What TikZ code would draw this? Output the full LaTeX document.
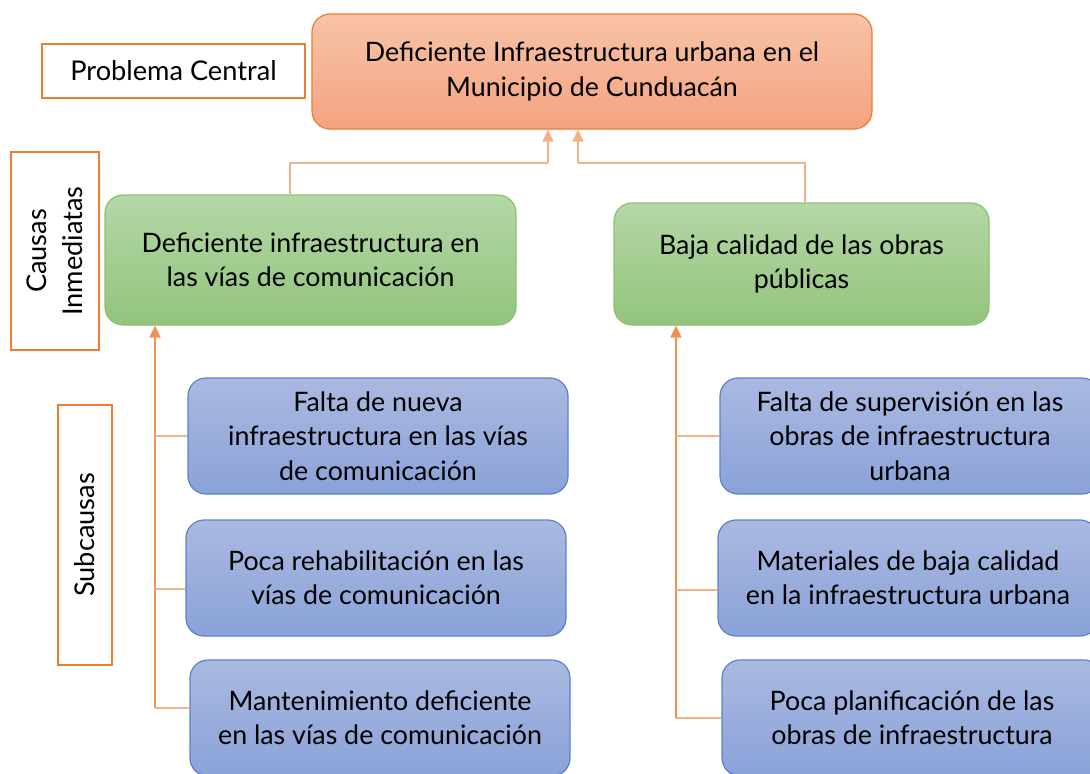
\documentclass[tikz,border=0pt]{standalone}
\usepackage{fontspec}
\setmainfont{Lato}
\usetikzlibrary{arrows.meta}
\definecolor{naranja}{HTML}{ED7D31}
\definecolor{naranjaclaro}{HTML}{F4B183}
\definecolor{salmonarr}{HTML}{F8C3A7}
\definecolor{salmonab}{HTML}{F4A380}
\definecolor{verdearr}{HTML}{B4D7A6}
\definecolor{verdeab}{HTML}{93C47D}
\definecolor{verdeborde}{HTML}{8DC16E}
\definecolor{azularr}{HTML}{AAB9E1}
\definecolor{azulab}{HTML}{8AA2D8}
\definecolor{azulborde}{HTML}{5A82CC}
\tikzset{
  letrero/.style={draw=naranja, line width=1.2pt, fill=white, inner sep=0pt,
    font=\fontsize{13.6}{18}\selectfont, align=center},
  caja/.style={rounded corners=9pt, line width=0.6pt, align=center, inner sep=0pt,
    minimum width=190pt, minimum height=58pt, font=\fontsize{13.4}{17.2}\selectfont},
  problema/.style={caja, draw=naranja, top color=salmonarr, bottom color=salmonab,
    minimum width=280pt, minimum height=57.5pt},
  causa/.style={caja, draw=verdeborde, top color=verdearr, bottom color=verdeab},
  subcausa/.style={caja, draw=azulborde, top color=azularr, bottom color=azulab},
  enlace/.style={naranjaclaro, line width=0.7pt},
  tronco/.style={naranja!85, line width=0.7pt},
  punta/.style={-{Triangle[length=6pt, width=5.5pt]}}
}
\begin{document}
\begin{tikzpicture}[x=0.5pt, y=-0.5pt]
  \useasboundingbox (0,0) rectangle (1090,773);
  \clip (0,0) rectangle (1090,773);

  % etiquetas de nivel
  \node[letrero, minimum width=131.5pt, minimum height=27pt] (lprob) at (173.5,71) {Problema Central};
  \node[letrero, rotate=90, minimum width=99pt, minimum height=44pt] (lcaus) at (55,251) {Causas\\Inmediatas};
  \node[letrero, rotate=90, minimum width=130pt, minimum height=27pt] (lsub) at (85,535) {Subcausas};

  % problema central
  \node[problema] (central) at (592,71.5) {Deficiente Infraestructura urbana en el\\Municipio de Cunduacán};

  % causas inmediatas
  \node[causa, minimum width=205.5pt, minimum height=65pt] (vias) at (310.5,260) {Deficiente infraestructura en\\las vías de comunicación};
  \node[causa, minimum width=187.5pt, minimum height=61pt] (obras) at (801.5,264) {Baja calidad de las obras\\públicas};

  % subcausas
  \node[subcausa] (nueva) at (378,436) {Falta de nueva\\infraestructura en las vías\\de comunicación};
  \node[subcausa] (rehab) at (376,578) {Poca rehabilitación en las\\vías de comunicación};
  \node[subcausa] (mant) at (380,718) {Mantenimiento deficiente\\en las vías de comunicación};
  \node[subcausa] (superv) at (910,436) {Falta de supervisión en las\\obras de infraestructura\\urbana};
  \node[subcausa] (mater) at (908,578) {Materiales de baja calidad\\en la infraestructura urbana};
  \node[subcausa] (plan) at (912,718) {Poca planificación de las\\obras de infraestructura};

  % conectores hacia el problema
  \coordinate (codoi) at (548,163);
  \coordinate (codod) at (578,163);
  \draw[enlace] ([xshift=-10.25pt]vias.north) |- (codoi);
  \draw[enlace, punta] (codoi) -- ([xshift=-22pt]central.south);
  \draw[enlace] ([xshift=1.75pt]obras.north) |- (codod);
  \draw[enlace, punta] (codod) -- ([xshift=-7pt]central.south);

  % troncos de subcausas
  \coordinate (ti1) at (155,436);
  \coordinate (ti2) at (155,589);
  \coordinate (ti3) at (155,708);
  \coordinate (td1) at (676,436);
  \coordinate (td2) at (676,590);
  \coordinate (td3) at (676,718);
  \draw[tronco, punta] (ti3) -- ([xshift=-77.75pt]vias.south);
  \draw[tronco, punta] (td3) -- ([xshift=-62.75pt]obras.south);
  \foreach \t/\c in {ti1/nueva, ti2/rehab, ti3/mant, td1/superv, td2/mater, td3/plan}
    \draw[enlace] (\t) -- (\t -| \c.west);
\end{tikzpicture}
\end{document}
